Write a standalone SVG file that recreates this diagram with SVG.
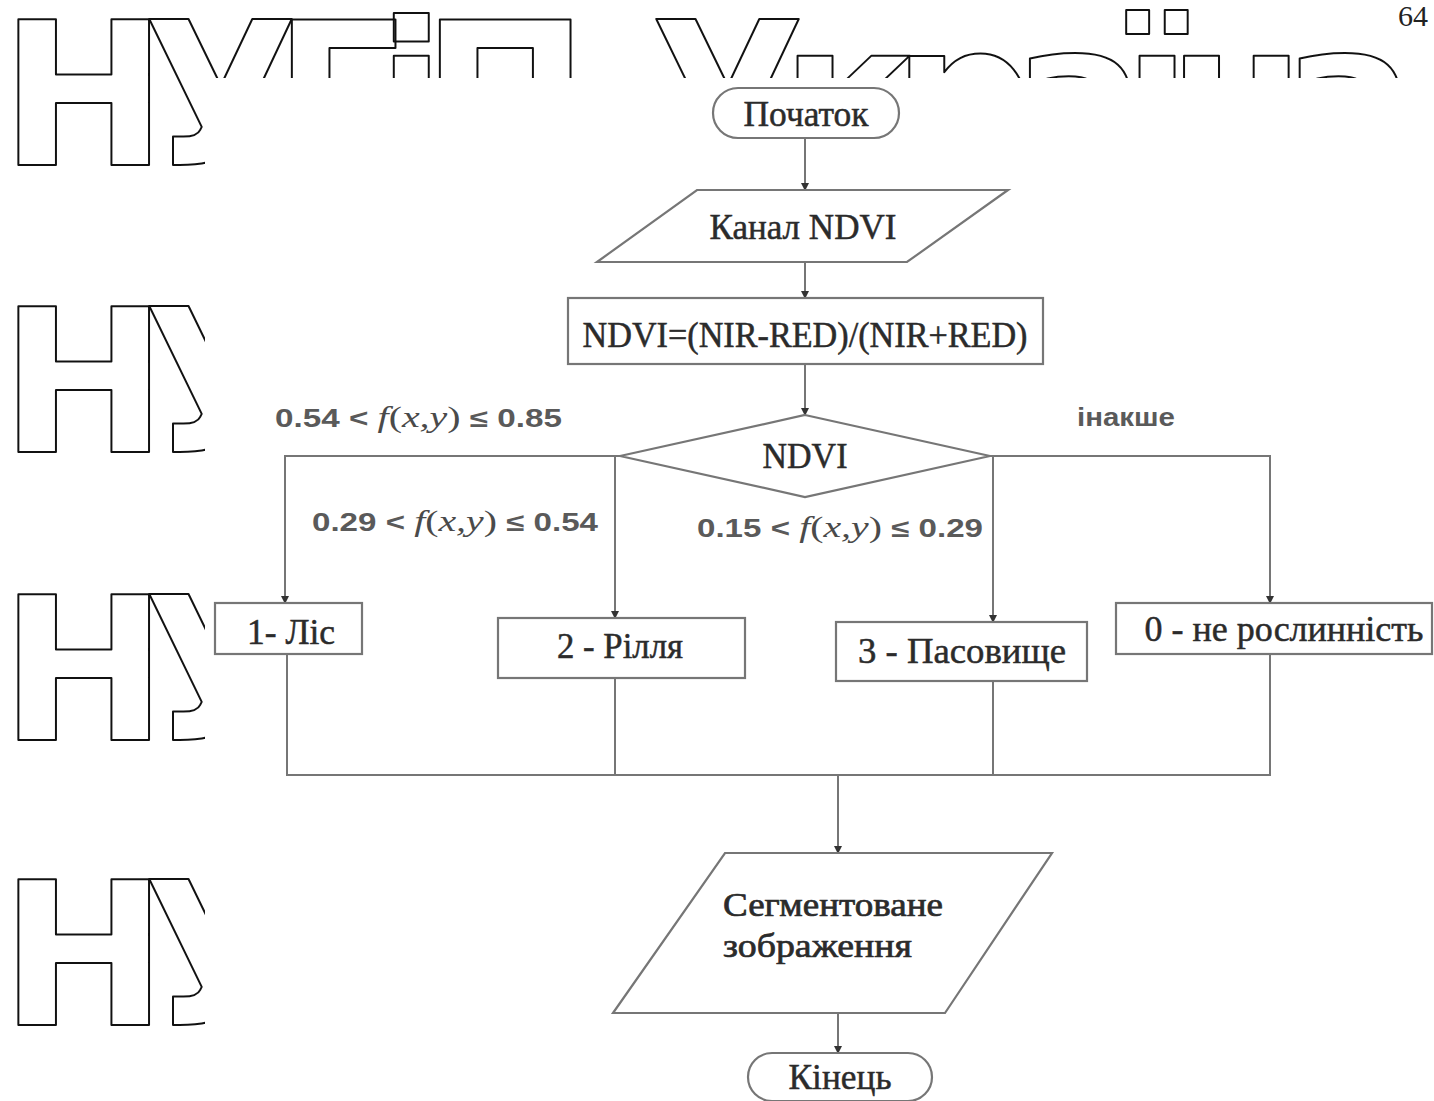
<svg xmlns="http://www.w3.org/2000/svg" width="1434" height="1101" viewBox="0 0 1434 1101">
<defs>
<style>
.wm{font-family:"DejaVu Sans",sans-serif;font-weight:bold;font-size:200px;fill:none;stroke:#111;stroke-width:2;stroke-linejoin:round;letter-spacing:-24px}
.shape{fill:#fff;stroke:#767676;stroke-width:2.2}
.t{font-family:"Liberation Serif","Times New Roman",serif;font-size:36px;fill:#2b2b2b;stroke:#2b2b2b;stroke-width:0.5;text-anchor:middle}
.tl{font-family:"Liberation Serif","Times New Roman",serif;font-size:34px;fill:#2b2b2b;stroke:#2b2b2b;stroke-width:0.7}
.lbl{font-family:"Liberation Sans",Arial,sans-serif;font-weight:bold;font-size:25px;fill:#5a5a5a}
.fx{font-family:"Liberation Serif","Times New Roman",serif;font-style:italic;font-weight:normal;font-size:30px;fill:#4a4a4a}
.up{font-style:normal}
.ln{fill:none;stroke:#767676;stroke-width:2}
</style>
<marker id="ah" viewBox="0 0 8 8" refX="7" refY="4" markerWidth="8" markerHeight="8" markerUnits="userSpaceOnUse" orient="auto">
<path d="M0,0 L8,4 L0,8 z" fill="#333"/>
</marker>
<clipPath id="wmTop"><rect x="0" y="0" width="1434" height="78"/><rect x="0" y="0" width="205" height="200"/></clipPath>
<clipPath id="wmLeft"><rect x="0" y="0" width="205" height="1101"/></clipPath>
</defs>
<rect width="1434" height="1101" fill="#fff"/>
<g id="watermark">
<text class="wm" x="0" y="165" clip-path="url(#wmTop)" style="word-spacing:40px">НУГіП Україна</text>
<g clip-path="url(#wmLeft)">
<text class="wm" x="0" y="452">НУ</text>
<text class="wm" x="0" y="740">НУ</text>
<text class="wm" x="0" y="1025">НУ</text>
</g>
</g>
<text id="page-number" x="1398" y="26" style="font-family:'Liberation Serif',serif;font-size:30px;fill:#222">64</text>
<g id="connectors">
<line class="ln" x1="805" y1="138" x2="805" y2="190" marker-end="url(#ah)"/>
<line class="ln" x1="805" y1="262" x2="805" y2="298" marker-end="url(#ah)"/>
<line class="ln" x1="805" y1="364" x2="805" y2="415" marker-end="url(#ah)"/>
<polyline class="ln" points="620,456 285,456 285,603" marker-end="url(#ah)"/>
<line class="ln" x1="615" y1="456" x2="615" y2="618" marker-end="url(#ah)"/>
<polyline class="ln" points="990,456 1270,456 1270,603" marker-end="url(#ah)"/>
<line class="ln" x1="993" y1="456" x2="993" y2="622" marker-end="url(#ah)"/>
<polyline class="ln" points="287,654 287,775 1270,775 1270,654"/>
<line class="ln" x1="615" y1="678" x2="615" y2="775"/>
<line class="ln" x1="993" y1="681" x2="993" y2="775"/>
<line class="ln" x1="838" y1="775" x2="838" y2="853" marker-end="url(#ah)"/>
<line class="ln" x1="838" y1="1013" x2="838" y2="1053" marker-end="url(#ah)"/>
</g>
<g id="start">
<rect class="shape" x="713" y="88" width="186" height="50" rx="25"/>
<text class="t" x="806" y="126" textLength="125" lengthAdjust="spacingAndGlyphs">Початок</text>
</g>
<g id="input-ndvi">
<polygon class="shape" points="697,190 1008,190 907,262 597,262"/>
<text class="t" x="803" y="239" textLength="187" lengthAdjust="spacingAndGlyphs">Канал NDVI</text>
</g>
<g id="formula">
<rect class="shape" x="568" y="298" width="475" height="66"/>
<text class="t" x="805" y="347" textLength="445" lengthAdjust="spacingAndGlyphs">NDVI=(NIR-RED)/(NIR+RED)</text>
</g>
<g id="decision">
<polygon class="shape" points="805,415 990,456 805,497 620,456"/>
<text class="t" x="805" y="468" textLength="85" lengthAdjust="spacingAndGlyphs">NDVI</text>
</g>
<g id="labels">
<text class="lbl" x="275" y="427" textLength="287" lengthAdjust="spacingAndGlyphs">0.54 &lt; <tspan class="fx">f</tspan><tspan class="fx up">(</tspan><tspan class="fx">x,y</tspan><tspan class="fx up">)</tspan> ≤ 0.85</text>
<text class="lbl" x="312" y="531" textLength="286" lengthAdjust="spacingAndGlyphs">0.29 &lt; <tspan class="fx">f</tspan><tspan class="fx up">(</tspan><tspan class="fx">x,y</tspan><tspan class="fx up">)</tspan> ≤ 0.54</text>
<text class="lbl" x="697" y="537" textLength="286" lengthAdjust="spacingAndGlyphs">0.15 &lt; <tspan class="fx">f</tspan><tspan class="fx up">(</tspan><tspan class="fx">x,y</tspan><tspan class="fx up">)</tspan> ≤ 0.29</text>
<text class="lbl" x="1077" y="426" textLength="98" lengthAdjust="spacingAndGlyphs">інакше</text>
</g>
<g id="forest">
<rect class="shape" x="215" y="603" width="147" height="51"/>
<text class="t" x="291" y="644" textLength="88" lengthAdjust="spacingAndGlyphs">1- Ліс</text>
</g>
<g id="arable">
<rect class="shape" x="498" y="618" width="247" height="60"/>
<text class="t" x="620" y="658" textLength="126" lengthAdjust="spacingAndGlyphs">2 - Рілля</text>
</g>
<g id="pasture">
<rect class="shape" x="836" y="622" width="251" height="59"/>
<text class="t" x="962" y="663" textLength="208" lengthAdjust="spacingAndGlyphs">3 - Пасовище</text>
</g>
<g id="non-vegetation">
<rect class="shape" x="1116" y="603" width="316" height="51"/>
<text class="t" x="1284" y="641" textLength="279" lengthAdjust="spacingAndGlyphs">0 - не рослинність</text>
</g>
<g id="output">
<polygon class="shape" points="725,853 1052,853 945,1013 613,1013"/>
<text class="tl" x="723" y="916" textLength="220" lengthAdjust="spacingAndGlyphs">Сегментоване</text>
<text class="tl" x="723" y="957" textLength="189" lengthAdjust="spacingAndGlyphs">зображення</text>
</g>
<g id="end">
<rect class="shape" x="748" y="1053" width="184" height="48" rx="24"/>
<text class="t" x="840" y="1089" textLength="103" lengthAdjust="spacingAndGlyphs">Кінець</text>
</g>
</svg>
